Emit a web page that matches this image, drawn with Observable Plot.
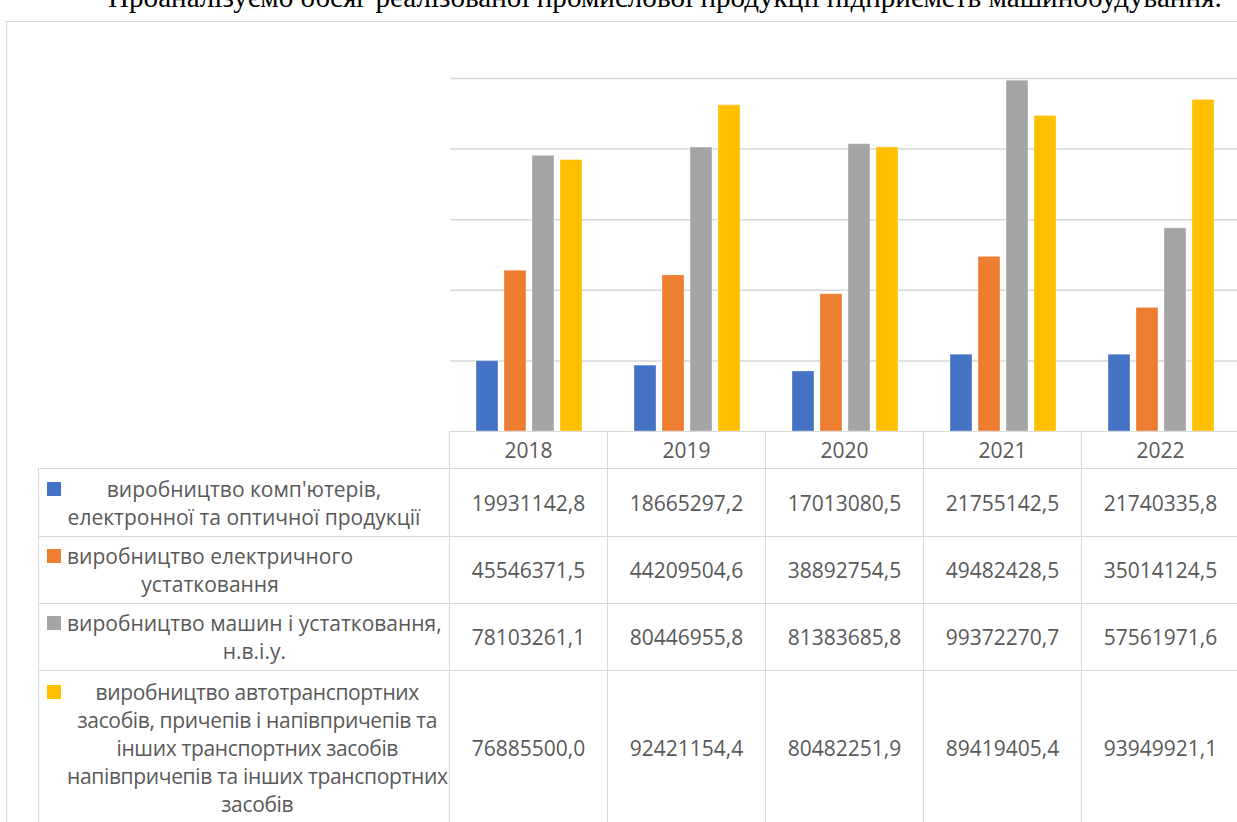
<!DOCTYPE html>
<html>
<head>
<meta charset="utf-8">
<script src="https://cdn.jsdelivr.net/npm/d3@7"></script>
<script src="https://cdn.jsdelivr.net/npm/@observablehq/plot@0.6"></script>
<style>
html, body { margin: 0; padding: 0; background: #fff; }
body { width: 1237px; height: 822px; overflow: hidden; position: relative; font-family: "Open Sans", sans-serif; }
#title { position: absolute; left: 108px; white-space: nowrap; font-family: "Liberation Serif", "Times New Roman", serif; color: #000; line-height: 1; }
#frame { position: absolute; left: 6px; top: 21px; width: 1300px; height: 900px; border: 1.5px solid #d9d9d9; box-sizing: border-box; pointer-events: none; }
#chart { position: absolute; left: 0; top: 0; }
table { position: absolute; left: 38px; top: 431px; border-collapse: collapse; table-layout: fixed; color: #595959; font-size: 21px; line-height: 28px; }
td { border: 1.5px solid #d9d9d9; padding: 0; text-align: center; vertical-align: middle; white-space: nowrap; overflow: visible; }
td.blank { border: none; }
.wrap { position: relative; text-align: left; }
.key { position: absolute; left: 8px; top: 7px; width: 14px; height: 14px; }
.txt { white-space: pre; text-align: center; }
.txt.indent { display: inline-block; margin-left: 28px; }
.txt.full { display: block; }
.txt.tight { letter-spacing: -0.35px; }
</style>
</head>
<body>
<div id="title"></div>
<div id="chart"></div>
<table id="tbl"></table>
<div id="frame"></div>
<script>
// ---- data ----
const titleText = "Проаналізуємо обсяг реалізованої промислової продукції підприємств машинобудування.";
const years = ["2018", "2019", "2020", "2021", "2022"];
const seriesNames = [
  "виробництво комп'ютерів,\nелектронної та оптичної продукції",
  "виробництво електричного\nустатковання",
  "виробництво машин і устатковання,\nн.в.і.у.",
  "виробництво автотранспортних\nзасобів, причепів і напівпричепів та\nінших транспортних засобів\nнапівпричепів та інших транспортних\nзасобів"
];
const computers  = [19931142.8, 18665297.2, 17013080.5, 21755142.5, 21740335.8];
const electrical = [45546371.5, 44209504.6, 38892754.5, 49482428.5, 35014124.5];
const machinery  = [78103261.1, 80446955.8, 81383685.8, 99372270.7, 57561971.6];
const vehicles   = [76885500.0, 92421154.4, 80482251.9, 89419405.4, 93949921.1];
const colors = ["#4472C4", "#ED7D31", "#A5A5A5", "#FFC000"];
const gridValues = [20000000, 40000000, 60000000, 80000000, 100000000];
const yDomain = [0, 100000000];

const seriesValues = [computers, electrical, machinery, vehicles];
const seriesKeys = seriesNames.map(s => s.replace(/\n/g, " "));
const rows = [];
seriesValues.forEach((vals, si) => vals.forEach((v, yi) => rows.push({year: years[yi], series: seriesKeys[si], value: v})));

// ---- chart ----
const chart = Plot.plot({
  width: 1237,
  height: 432,
  marginTop: 78,
  marginBottom: 1,
  marginLeft: 449,
  marginRight: 0,
  style: {background: "transparent"},
  fx: {domain: years, range: [449, 1240], paddingInner: 0, paddingOuter: 0, axis: null},
  x: {domain: seriesKeys, paddingInner: 0.21, paddingOuter: 0.85, axis: null},
  y: {domain: yDomain, axis: null},
  color: {domain: seriesKeys, range: colors},
  marks: [
    Plot.ruleY(gridValues, {stroke: "#d9d9d9", strokeWidth: 1.5}),
    Plot.barY(rows, {fx: "year", x: "series", y: "value", fill: "series", stroke: "#ffffff", strokeOpacity: 0.35, strokeWidth: 1})
  ]
});
document.getElementById("chart").appendChild(chart);

// ---- title (fit to width; only its lower part shows, as in the source) ----
const titleEl = document.getElementById("title");
const ctx = document.createElement("canvas").getContext("2d");
ctx.font = '100px "Liberation Serif"';
const w100 = ctx.measureText(titleText).width;
const fs = 100 * 1114 / w100;
titleEl.style.fontSize = fs + "px";
titleEl.style.top = (7 - 0.8375 * fs) + "px";
titleEl.textContent = titleText;

// ---- data table ----
const fxScale = chart.scale("fx");
const colW = fxScale.bandwidth;
const labelW = 411;
const fmt = v => d3.format(".1f")(v).replace(".", ",");
const tbl = d3.select("#tbl").style("width", (labelW + colW * years.length) + "px");
const cg = tbl.append("colgroup");
cg.append("col").style("width", labelW + "px");
years.forEach(() => cg.append("col").style("width", colW + "px"));
const rowHeights = [37, 68, 67, 67, 154];
const hdr = tbl.append("tr").style("height", rowHeights[0] + "px");
hdr.append("td").attr("class", "blank");
years.forEach(y => hdr.append("td").text(y));
seriesNames.forEach((name, si) => {
  const tr = tbl.append("tr").style("height", rowHeights[si + 1] + "px");
  const wrap = tr.append("td").append("div").attr("class", "wrap");
  wrap.append("span").attr("class", "key").style("background", colors[si]);
  const cls = "txt " + (si === 0 ? "full" : "indent") + (si === seriesNames.length - 1 ? " tight" : "");
  wrap.append("div").attr("class", cls).text(name);
  seriesValues[si].forEach(v => tr.append("td").text(fmt(v)));
});
</script>
</body>
</html>
